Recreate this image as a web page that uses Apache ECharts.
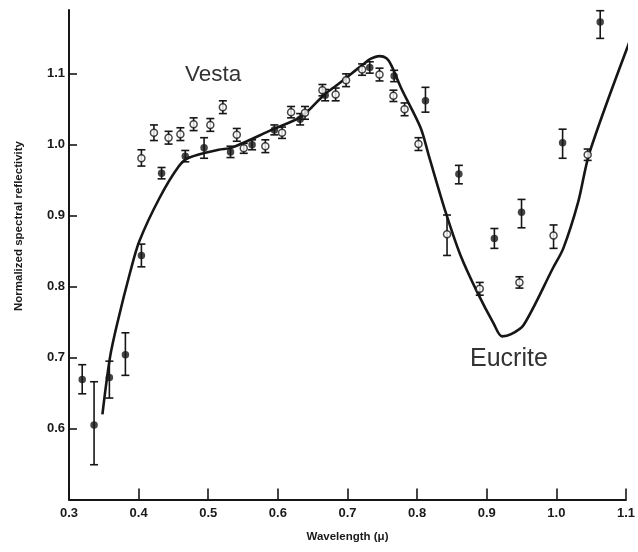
<!DOCTYPE html>
<html>
<head>
<meta charset="utf-8">
<script src="https://cdn.jsdelivr.net/npm/echarts@6/dist/echarts.min.js"></script>
<style>html,body{margin:0;padding:0;background:#fff;}#c{width:638px;height:552px;}</style>
</head>
<body>
<div id="c"></div>
<script>
// Filled (solid) measurements: wavelength, reflectivity, error high, error low
const filledX  = [0.319,0.336,0.358,0.381,0.404,0.433,0.467,0.494,0.532,0.563,0.595,0.632,0.668,0.732,0.767,0.812,0.860,0.911,0.950,1.009,1.063];
const filledY  = [0.669,0.605,0.672,0.704,0.844,0.960,0.984,0.996,0.990,1.000,1.021,1.036,1.070,1.109,1.097,1.062,0.959,0.868,0.905,1.003,1.173];
const filledHi = [0.690,0.666,0.695,0.735,0.860,0.968,0.992,1.010,0.998,1.007,1.028,1.044,1.078,1.117,1.105,1.081,0.971,0.882,0.923,1.022,1.189];
const filledLo = [0.649,0.549,0.643,0.675,0.828,0.952,0.976,0.981,0.982,0.993,1.014,1.028,1.062,1.101,1.089,1.046,0.945,0.854,0.883,0.981,1.150];

// Open measurements
const openX  = [0.404,0.422,0.443,0.460,0.479,0.503,0.521,0.541,0.551,0.582,0.606,0.619,0.639,0.664,0.683,0.698,0.721,0.746,0.766,0.782,0.802,0.843,0.890,0.947,0.996,1.045];
const openY  = [0.981,1.017,1.010,1.015,1.029,1.028,1.053,1.014,0.995,0.998,1.017,1.046,1.045,1.077,1.071,1.091,1.106,1.099,1.069,1.050,1.001,0.874,0.797,0.806,0.872,0.986];
const openHi = [0.993,1.028,1.019,1.024,1.038,1.037,1.062,1.023,1.002,1.007,1.025,1.054,1.054,1.085,1.080,1.100,1.114,1.108,1.077,1.059,1.010,0.901,0.806,0.814,0.887,0.994];
const openLo = [0.970,1.006,1.001,1.006,1.020,1.019,1.044,1.005,0.988,0.989,1.009,1.038,1.036,1.069,1.062,1.082,1.098,1.090,1.061,1.041,0.992,0.844,0.788,0.798,0.854,0.978];

// Eucrite curve
const curveX = [0.348,0.359,0.370,0.388,0.401,0.430,0.458,0.473,0.515,0.534,0.591,0.634,0.667,0.686,0.722,0.733,0.746,0.756,0.763,0.777,0.805,0.817,0.841,0.862,0.886,0.910,0.922,0.935,0.953,0.995,1.010,1.031,1.048,1.110];
const curveY = [0.620,0.701,0.751,0.821,0.864,0.925,0.970,0.982,0.993,0.996,1.021,1.040,1.071,1.085,1.113,1.121,1.125,1.122,1.112,1.080,1.024,0.984,0.905,0.845,0.793,0.748,0.730,0.733,0.746,0.826,0.854,0.918,0.990,1.158];

const yTickLabels = ['0.6','0.7','0.8','0.9','1.0','1.1'];
const xTickLabels = ['0.3','0.4','0.5','0.6','0.7','0.8','0.9','1.0','1.1'];

const FONT = '"Liberation Sans", Arial, Helvetica, sans-serif';
const INK = '#161616';

function errData(xs, ys, hi, lo){ return xs.map((x,i)=>[x, ys[i], hi[i], lo[i]]); }

function errRender(params, api){
  const x = api.value(0);
  const top = api.coord([x, api.value(2)]);
  const bot = api.coord([x, api.value(3)]);
  const w = 4;
  const st = {stroke: INK, lineWidth: 1.6};
  return {type:'group', children:[
    {type:'line', shape:{x1:top[0], y1:top[1], x2:bot[0], y2:bot[1]}, style:st},
    {type:'line', shape:{x1:top[0]-w, y1:top[1], x2:top[0]+w, y2:top[1]}, style:st},
    {type:'line', shape:{x1:bot[0]-w, y1:bot[1], x2:bot[0]+w, y2:bot[1]}, style:st}
  ]};
}

const chart = echarts.init(document.getElementById('c'), null, {renderer:'canvas'});
chart.setOption({
  animation:false,
  backgroundColor:'#ffffff',
  grid:{left:69, right:8, top:10, bottom:52.5},
  xAxis:{
    type:'value', min:0.3, max:1.1, interval:0.1,
    axisLine:{show:true, lineStyle:{color:INK, width:2}},
    axisTick:{show:true, inside:true, length:11, lineStyle:{color:INK, width:1.6}},
    splitLine:{show:false},
    axisLabel:{margin:7, color:'#1a1a1a', fontFamily:FONT, fontWeight:'bold', fontSize:13,
      formatter:(v)=>{ const s=v.toFixed(1); return xTickLabels.indexOf(s)>=0 ? s : ''; }},
    name:'Wavelength (\u03bc)', nameLocation:'middle', nameGap:31,
    nameTextStyle:{color:'#1a1a1a', fontFamily:FONT, fontWeight:'bold', fontSize:11.5}
  },
  yAxis:{
    type:'value', min:0.5, max:1.19, interval:0.1,
    axisLine:{show:true, lineStyle:{color:INK, width:2}},
    axisTick:{show:true, inside:true, length:8, lineStyle:{color:INK, width:1.6}},
    splitLine:{show:false},
    axisLabel:{margin:4, color:'#1a1a1a', fontFamily:FONT, fontWeight:'bold', fontSize:13, showMaxLabel:false,
      formatter:(v)=>{ const s=v.toFixed(1); return yTickLabels.indexOf(s)>=0 ? s : ''; }}
  },
  graphic:[
    {type:'text', x:19, y:226, rotation:Math.PI/2, style:{text:'Normalized spectral reflectivity', fill:'#1a1a1a',
      font:'bold 11.5px '+FONT, textAlign:'center', textVerticalAlign:'middle'}},
    {type:'text', x:185, y:75, style:{text:'Vesta', fill:'#333', font:'22.5px '+FONT, textAlign:'left', textVerticalAlign:'middle'}},
    {type:'text', x:470, y:359, style:{text:'Eucrite', fill:'#333', font:'25px '+FONT, textAlign:'left', textVerticalAlign:'middle'}}
  ],
  series:[
    {type:'line', data:curveX.map((x,i)=>[x,curveY[i]]), smooth:0.3, showSymbol:false, clip:false,
      lineStyle:{color:INK, width:2.6}, z:2},
    {type:'custom', data:errData(filledX,filledY,filledHi,filledLo), renderItem:errRender, clip:false, z:3,
      encode:{x:0,y:1}},
    {type:'custom', data:errData(openX,openY,openHi,openLo), renderItem:errRender, clip:false, z:3,
      encode:{x:0,y:1}},
    {type:'scatter', data:filledX.map((x,i)=>[x,filledY[i]]), symbol:'circle', symbolSize:7.5, clip:false,
      itemStyle:{color:INK}, z:4},
    {type:'scatter', data:openX.map((x,i)=>[x,openY[i]]), symbol:'circle', symbolSize:7, clip:false,
      itemStyle:{color:'#fff', borderColor:INK, borderWidth:1.5}, z:4}
  ]
});
</script>
</body>
</html>
